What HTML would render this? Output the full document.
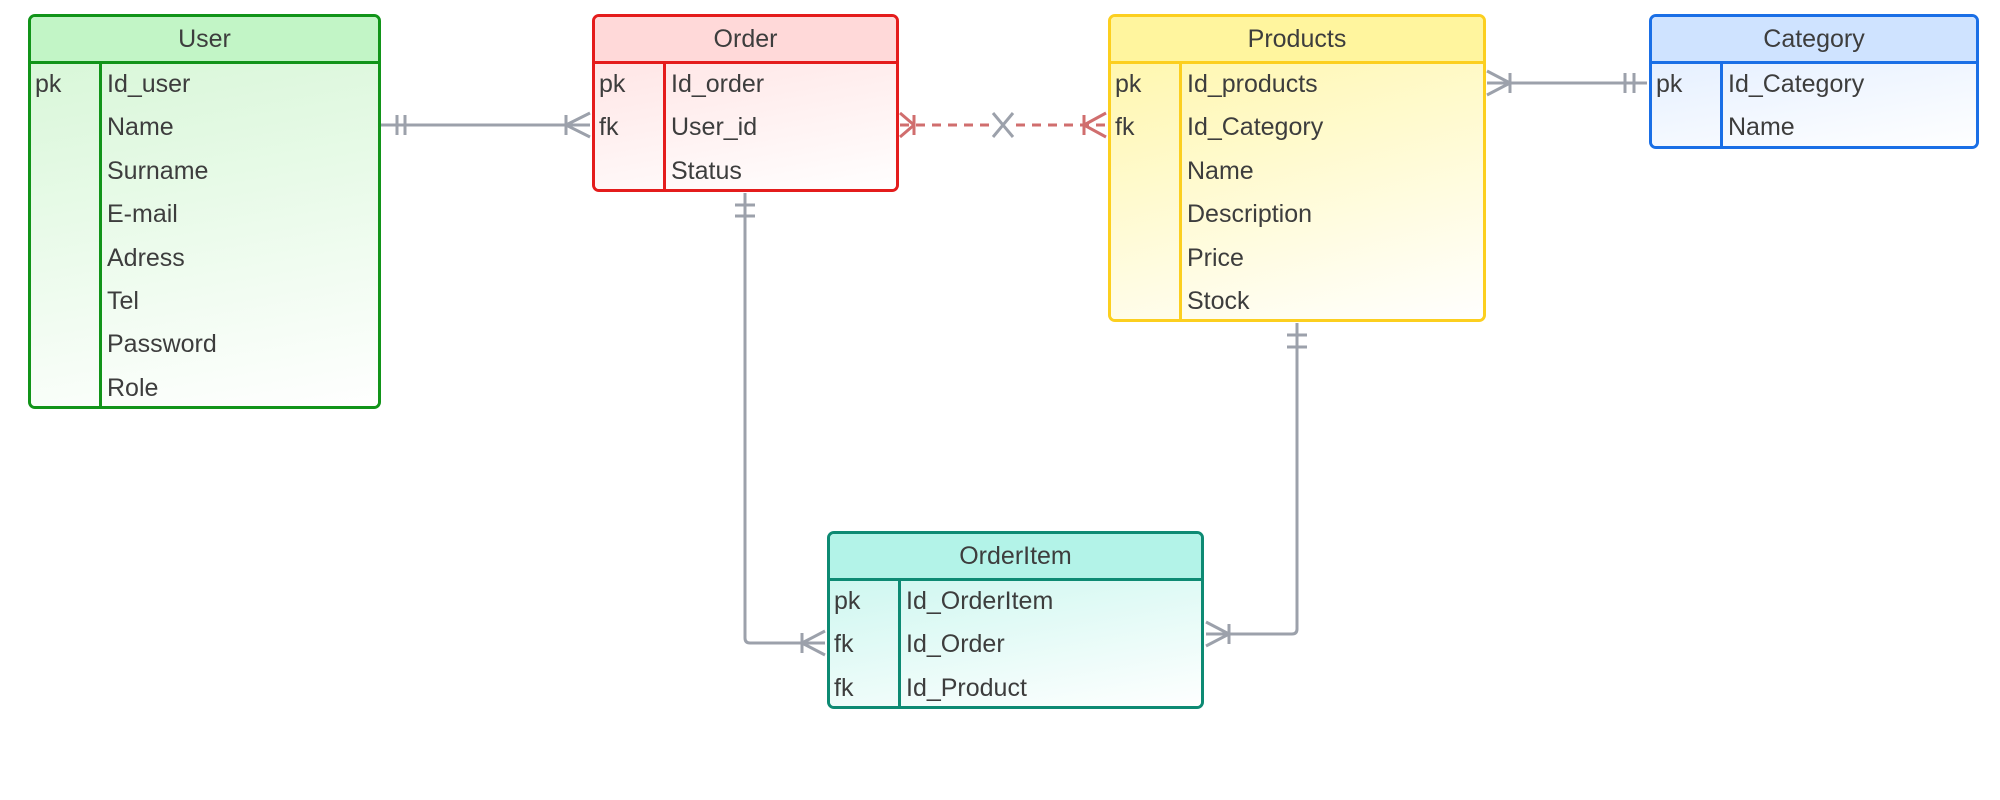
<!DOCTYPE html>
<html><head><meta charset="utf-8"><style>
body{margin:0;width:2000px;height:800px;background:#fff;position:relative;overflow:hidden;font-family:"Liberation Sans",sans-serif;color:#3d3d3d}
.t{position:absolute;box-sizing:border-box;border:3px solid;border-radius:7px;overflow:hidden}
.h{height:44px;line-height:44px;text-align:center;font-size:25px;border-bottom:3px solid}
.b{position:relative}
.r{height:43.4px;line-height:40px;font-size:25px;position:relative}
.r span{position:absolute}
.k{left:4px}
.d{position:absolute;top:0;bottom:0;width:3px}
svg{position:absolute;left:0;top:0}
</style></head><body>

<div class="t" style="left:28px;top:14px;width:353px;height:395px;border-color:#119419">
<div class="h" style="background:#c2f5c6;border-color:#119419">User</div>
<div class="b" style="background:linear-gradient(170deg,#d9f7d9,#fff)">
<div class="d" style="left:68px;background:#119419"></div>
<div class="r"><span class="k">pk</span><span style="left:76px">Id_user</span></div>
<div class="r"><span style="left:76px">Name</span></div>
<div class="r"><span style="left:76px">Surname</span></div>
<div class="r"><span style="left:76px">E-mail</span></div>
<div class="r"><span style="left:76px">Adress</span></div>
<div class="r"><span style="left:76px">Tel</span></div>
<div class="r"><span style="left:76px">Password</span></div>
<div class="r"><span style="left:76px">Role</span></div>
</div></div>

<div class="t" style="left:592px;top:14px;width:307px;height:178px;border-color:#e41c1c">
<div class="h" style="background:#ffd9d9;border-color:#e41c1c">Order</div>
<div class="b" style="background:linear-gradient(170deg,#ffe6e6,#fff)">
<div class="d" style="left:68px;background:#e41c1c"></div>
<div class="r"><span class="k">pk</span><span style="left:76px">Id_order</span></div>
<div class="r"><span class="k">fk</span><span style="left:76px">User_id</span></div>
<div class="r"><span style="left:76px">Status</span></div>
</div></div>

<div class="t" style="left:1108px;top:14px;width:378px;height:308px;border-color:#fccf1f">
<div class="h" style="background:#fff59e;border-color:#fccf1f">Products</div>
<div class="b" style="background:linear-gradient(165deg,#fff7b0,#fff)">
<div class="d" style="left:68px;background:#fccf1f"></div>
<div class="r"><span class="k">pk</span><span style="left:76px">Id_products</span></div>
<div class="r"><span class="k">fk</span><span style="left:76px">Id_Category</span></div>
<div class="r"><span style="left:76px">Name</span></div>
<div class="r"><span style="left:76px">Description</span></div>
<div class="r"><span style="left:76px">Price</span></div>
<div class="r"><span style="left:76px">Stock</span></div>
</div></div>

<div class="t" style="left:1649px;top:14px;width:330px;height:135px;border-color:#1a6fe6">
<div class="h" style="background:#cfe3ff;border-color:#1a6fe6">Category</div>
<div class="b" style="background:linear-gradient(170deg,#e6f0ff,#fff)">
<div class="d" style="left:68px;background:#1a6fe6"></div>
<div class="r"><span class="k">pk</span><span style="left:76px">Id_Category</span></div>
<div class="r"><span style="left:76px">Name</span></div>
</div></div>

<div class="t" style="left:827px;top:531px;width:377px;height:178px;border-color:#0d8a73">
<div class="h" style="background:#b3f3e8;border-color:#0d8a73">OrderItem</div>
<div class="b" style="background:linear-gradient(170deg,#cff7f0,#fff)">
<div class="d" style="left:68px;background:#0d8a73"></div>
<div class="r"><span class="k">pk</span><span style="left:76px">Id_OrderItem</span></div>
<div class="r"><span class="k">fk</span><span style="left:76px">Id_Order</span></div>
<div class="r"><span class="k">fk</span><span style="left:76px">Id_Product</span></div>
</div></div>

<svg width="2000" height="800" fill="none" stroke-width="3">
<g stroke="#9ca1ab">
<!-- User-Order -->
<path d="M381 125H590M397 115v20M405 115v20M566 115v20M566 125L590 113M566 125L590 137"/>
<!-- Products-Category -->
<path d="M1487 83H1647M1510 73v20M1510 83L1487 71M1510 83L1487 95M1625 73v20M1634 73v20"/>
<!-- Order-OrderItem -->
<path d="M745 193V638q0 5 5 5H825M735 205h20M735 216h20M802 633v20M802 643L825 631M802 643L825 655"/>
<!-- Products-OrderItem -->
<path d="M1297 323V629q0 5-5 5H1206M1287 335h20M1287 347h20M1229 624v20M1229 634L1206 622M1229 634L1206 646"/>
<!-- X -->
<path d="M993 113L1013 137M1013 113L993 137"/>
</g>
<g stroke="#d06e6e">
<path d="M900 125H990M1016 125H1106" stroke-dasharray="9 7"/>
<path d="M914 115v20M914 125L900 113M914 125L900 137M1084 115v20M1084 125L1106 113M1084 125L1106 137"/>
</g>
</svg>
</body></html>
